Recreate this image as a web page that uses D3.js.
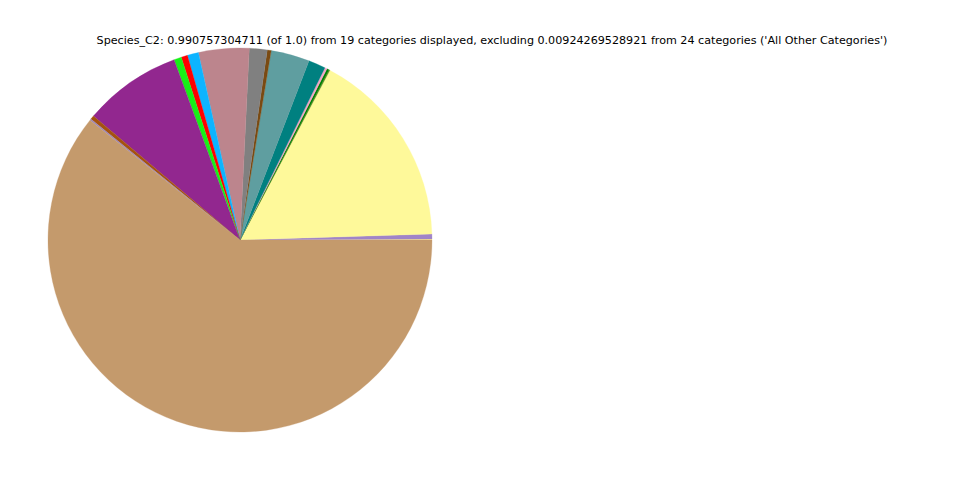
<!DOCTYPE html>
<html>
<head>
<meta charset="utf-8">
<script src="https://cdn.jsdelivr.net/npm/d3@7"></script>
<style>
  html, body { margin: 0; padding: 0; background: #fff; }
  svg { display: block; }
</style>
</head>
<body>
<svg id="chart" width="960" height="480"></svg>
<script>
// Category shares (fractions of the full circle), in drawing order (counter-clockwise from 3 o'clock)
const categories = [
  "c01", "c02", "c03", "c04", "c05", "c06", "c07", "c08", "c09",
  "c10", "c11", "c12", "c13", "c14", "c15", "c16", "c17", "c18"
];
const values = [
  0.0008, 0.0042, 0.1675, 0.0008, 0.0019, 0.0019, 0.0144, 0.0325, 0.0033,
  0.0150, 0.0425, 0.0094, 0.0053, 0.0063, 0.0825, 0.0033, 0.0011, 0.6073
];
const colors = [
  "#FFEF8F", "#A084C8", "#FEF99A", "#6B8E23", "#008000", "#F4A6C8", "#008080", "#5F9EA0", "#7A4A12",
  "#808080", "#BC858D", "#0DB4FF", "#FF0000", "#17F017", "#92278F", "#A5520F", "#9C86B8", "#C49A6C"
];
const title = "Species_C2: 0.990757304711 (of 1.0) from 19 categories displayed, excluding 0.00924269528921 from 24 categories ('All Other Categories')";

const svg = d3.select("#chart");
const cx = 240, cy = 240, radius = 192;

const data = categories.map((c, i) => ({ cat: c, value: values[i], color: colors[i] }));

const pie = d3.pie()
  .sort(null)
  .value(d => d.value)
  .startAngle(Math.PI / 2)
  .endAngle(Math.PI / 2 - 2 * Math.PI);

const arc = d3.arc().innerRadius(0).outerRadius(radius);

const g = svg.append("g").attr("transform", `translate(${cx},${cy})`);
g.selectAll("path")
  .data(pie(data))
  .join("path")
  .attr("d", arc)
  .attr("fill", d => d.data.color)
  .attr("stroke", d => d.data.color)
  .attr("stroke-width", 0.3);

svg.append("text")
  .attr("x", 492)
  .attr("y", 44)
  .attr("text-anchor", "middle")
  .attr("font-family", "DejaVu Sans, sans-serif")
  .attr("font-size", "11.15px")
  .attr("fill", "#000")
  .text(title);
</script>
</body>
</html>
